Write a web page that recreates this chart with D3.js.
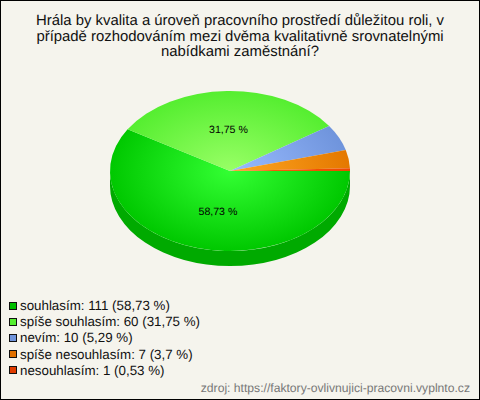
<!DOCTYPE html>
<html><head><meta charset="utf-8">
<script src="https://cdn.jsdelivr.net/npm/d3@7"></script>
<style>html,body{margin:0;padding:0;background:#f5f4ed}svg{display:block}text{font-family:"Liberation Sans",Arial,sans-serif;text-rendering:geometricPrecision}</style>
</head><body><div id="chart"></div>
<script>
const titleLines=["Hrála by kvalita a úroveň pracovního prostředí důležitou roli, v","případě rozhodováním mezi dvěma kvalitativně srovnatelnými","nabídkami zaměstnání?"];
const categories=["souhlasím","spíše souhlasím","nevím","spíše nesouhlasím","nesouhlasím"];
const counts=[111,60,10,7,1];
const percents=["58,73","31,75","5,29","3,7","0,53"];
const innerColors=["#33ff33","#99ff66","#99bbff","#ffa822","#ff6010"];
const outerColors=["#00c800","#55ee30","#6f94dc","#e47800","#ee4800"];
const legendColors=["#00c000","#55ee30","#6f94dc","#e07000","#e03c00"];
const sideColors=["#00aa00","#44cc22","#5577bb","#bb5c00","#bb3300"];
const source="zdroj: https://faktory-ovlivnujici-pracovni.vyplnto.cz";
const W=480,H=400,cx=230,cy=171,rx=120,ry=80,depth=15;
const svg=d3.select("#chart").append("svg").attr("width",W).attr("height",H);
svg.append("rect").attr("x",.5).attr("y",.5).attr("width",W-1).attr("height",H-1).attr("fill","#f5f4ed").attr("stroke","#000").attr("stroke-width",1);
svg.append("g").selectAll("text").data(titleLines).join("text").attr("x",240).attr("y",(d,i)=>25+i*15.5).attr("text-anchor","middle").attr("font-size",14.9).attr("fill","#111").text(d=>d);
const defs=svg.append("defs");
categories.forEach((c,i)=>{const g=defs.append("radialGradient").attr("id","g"+i).attr("gradientUnits","userSpaceOnUse").attr("cx",0).attr("cy",0).attr("r",rx);
 g.append("stop").attr("offset",0).attr("stop-color",innerColors[i]);g.append("stop").attr("offset",1).attr("stop-color",outerColors[i]);});
const pie=d3.pie().sort(null).startAngle(Math.PI/2).endAngle(Math.PI*2.5);
const arcs=pie(counts);
const arc=d3.arc().innerRadius(0).outerRadius(rx);
const k=ry/rx;
const plot=svg.append("g").attr("transform",`translate(${cx},${cy}) scale(1,${k})`);
const d2=depth/k;
arcs.forEach((a,i)=>{
 const lo=Math.max(a.startAngle,Math.PI/2),hi=Math.min(a.endAngle,Math.PI*1.5);
 if(hi<=lo)return;
 const p=d3.path();
 const s=lo-Math.PI/2,e=hi-Math.PI/2;
 p.arc(0,0,rx,s,e,false);p.arc(0,d2,rx,e,s,true);p.closePath();
 plot.append("path").attr("d",p.toString()).attr("fill",sideColors[i]);
});
plot.selectAll("path.slice").data(arcs).join("path").attr("class","slice").attr("d",arc).attr("fill",(d,i)=>`url(#g${i})`);
const labelShift=[5,0];
arcs.slice(0,2).forEach((a,i)=>{const m=(a.startAngle+a.endAngle)/2,r=rx*.525;
 svg.append("text").attr("x",cx+Math.sin(m)*r+labelShift[i]).attr("y",cy-Math.cos(m)*r*k+4).attr("text-anchor","middle").attr("font-size",10.6).attr("fill","#000").text(percents[i]+" %");});
const lg=svg.append("g").selectAll("g").data(categories).join("g");
lg.append("rect").attr("x",9.5).attr("y",(d,i)=>Math.round(301.5+i*16.2)+.5).attr("width",7).attr("height",7).attr("fill",(d,i)=>legendColors[i]).attr("stroke","#111");
lg.append("text").attr("x",20).attr("y",(d,i)=>310+i*16.2).attr("font-size",13.33).attr("fill","#111").text((d,i)=>`${d}: ${counts[i]} (${percents[i]} %)`);
svg.append("text").attr("x",470).attr("y",392).attr("text-anchor","end").attr("font-size",12.15).attr("fill","#777").text(source);
</script></body></html>
